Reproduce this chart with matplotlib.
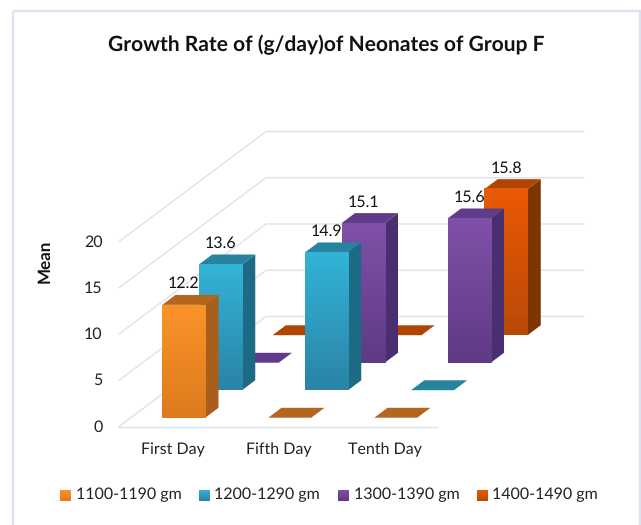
import numpy as np
import matplotlib
matplotlib.use("Agg")
import matplotlib.pyplot as plt
from matplotlib.patches import Polygon, Rectangle

plt.rcParams['font.family'] = ['Lato', 'DejaVu Sans']
plt.rcParams['text.hinting'] = 'no_hinting'
plt.rcParams['text.hinting_factor'] = 1

categories = ["First Day", "Fifth Day", "Tenth Day"]
series_names = ["1100-1190 gm", "1200-1290 gm", "1300-1390 gm", "1400-1490 gm"]
s1100 = [12.2, 0, 0]
s1200 = [13.6, 14.9, 0]
s1300 = [0, 15.1, 15.6]
s1400 = [0, 0, 15.8]
series_values = [s1100, s1200, s1300, s1400]
yticks = [0, 5, 10, 15, 20]

front_top = ["#F99329", "#33B3D8", "#7F51A8", "#EA5A04"]
front_bot = ["#DF7A1E", "#2A84A6", "#5F3A85", "#B84A08"]
top_col = ["#B5661E", "#26849F", "#5E3C8A", "#B04500"]
side_col = ["#A85F1C", "#1C6A83", "#4A2F70", "#7F3500"]
grid_col = "#DDE2EC"
border_col = "#DAE3F3"

X0, Y0 = 119, 426.5
CAT_W, DX, DY, VAL_H = 106, 36.75, 27.5, 9.25

def proj(c, d, v):
    return (X0 + CAT_W * c + DX * d, Y0 - DY * d - VAL_H * v)

fig = plt.figure(figsize=(6.41, 5.25), dpi=100)
ax = fig.add_axes([0, 0, 1, 1])
ax.set_xlim(0, 641)
ax.set_ylim(525, 0)
ax.axis("off")

ax.add_patch(Rectangle((13, 11), 627, 530, fill=False, ec=border_col, lw=1.6, zorder=1))

n_d = len(series_values)
n_c = len(categories)
for v in yticks:
    p0, p1, p2 = proj(0, 0, v), proj(0, n_d, v), proj(n_c, n_d, v)
    ax.plot([p0[0], p1[0], p2[0]], [p0[1], p1[1], p2[1]], color=grid_col, lw=1, zorder=2)
    ax.text(102.5, p0[1] + 0.5, str(v), ha="right", va="center", fontsize=11.8, color="#222222")
p0, p1 = proj(0, 0, 0), proj(n_c, 0, 0)
ax.plot([p0[0], p1[0]], [p0[1], p1[1]], color=grid_col, lw=1, zorder=2)

grad = np.linspace(0, 1, 64).reshape(-1, 1)
z = 3
labels = []
for s in range(n_d - 1, -1, -1):
    for c in range(n_c):
        v = series_values[s][c]
        cl, cr = c + 0.297, c + 0.703
        dn, df = s + 0.32, s + 0.68
        top = [proj(cl, dn, v), proj(cr, dn, v), proj(cr, df, v), proj(cl, df, v)]
        ax.add_patch(Polygon(top, fc=top_col[s], ec="none", zorder=z + 0.2))
        if v > 0:
            side = [proj(cr, dn, 0), proj(cr, df, 0), proj(cr, df, v), proj(cr, dn, v)]
            ax.add_patch(Polygon(side, fc=side_col[s], ec="none", zorder=z + 0.1))
            (xl, yb), (xr, yt) = proj(cl, dn, 0), proj(cr, dn, v)
            a, b = matplotlib.colors.to_rgb(front_top[s]), matplotlib.colors.to_rgb(front_bot[s])
            img = (np.array(a) * (1 - grad)[..., None] + np.array(b) * grad[..., None])
            ax.imshow(img, extent=(xl, xr, yb, yt), aspect="auto", zorder=z + 0.3,
                      interpolation="bilinear")
            labels.append(((xl + xr) / 2, yt - 21, f"{v:.1f}"))
        z += 1

for x, y, t in labels:
    ax.text(x, y, t, ha="center", va="center", fontsize=11.5, color="#111111", zorder=100)

for c, name in enumerate(categories):
    x, _ = proj(c + 0.5, 0, 0)
    ax.text(x + 0.5, 450, name, ha="center", va="center", fontsize=11.5, color="#222222")

ax.text(326, 45, "Growth Rate of (g/day)of Neonates of Group F", ha="center", va="center",
        fontsize=14.9, fontweight="bold", color="#111111")
ax.text(45, 261, "Mean", rotation=90, ha="center", va="center", fontsize=12,
        fontweight="bold", color="#111111")

leg_x = [60, 199, 338, 477]
for x, name, a, b in zip(leg_x, series_names, front_top, front_bot):
    a, b = matplotlib.colors.to_rgb(a), matplotlib.colors.to_rgb(b)
    img = (np.array(a) * (1 - grad)[..., None] + np.array(b) * grad[..., None])
    ax.imshow(img, extent=(x, x + 11, 501, 490), aspect="auto", zorder=5, interpolation="bilinear")
    ax.text(x + 15.5, 495, name, ha="left", va="center", fontsize=11.7, color="#222222")

ax.set_xlim(0, 641)
ax.set_ylim(525, 0)
fig.savefig("out.png", dpi=100)
